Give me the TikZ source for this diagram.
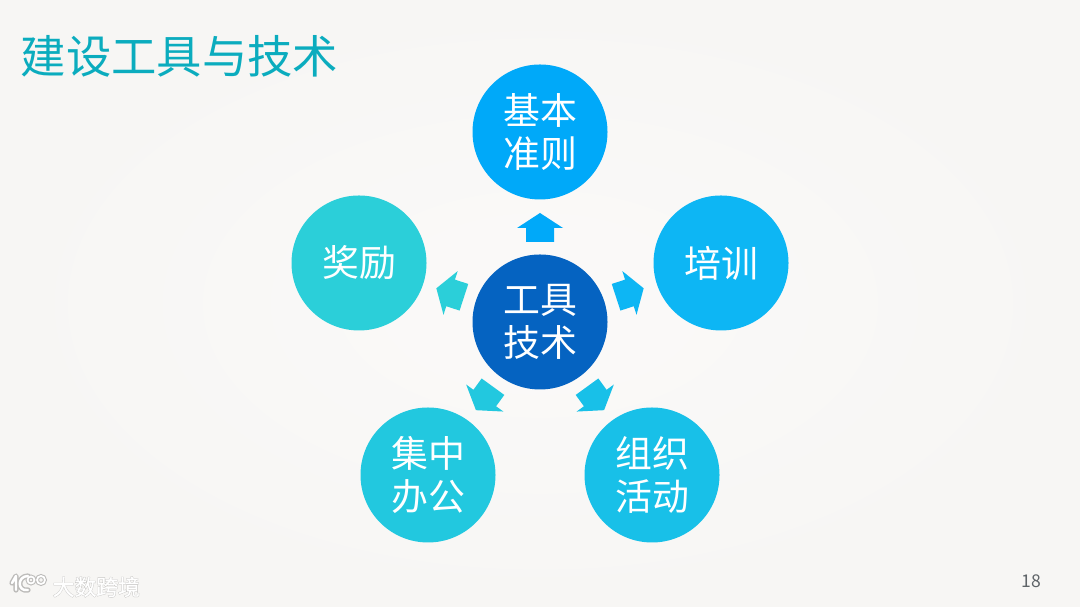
\documentclass[tikz,border=0pt]{standalone}
\usepackage{fontspec}
\usepackage{xcolor}
\newfontfamily\cjk{Noto Sans CJK SC}
\newfontfamily\cjkhalo[FakeBold=4]{Noto Sans CJK SC}
\newfontfamily\cjkmark[FakeBold=1]{Noto Sans CJK SC}
\usetikzlibrary{calc}
\definecolor{Paper}{HTML}{F7F6F4}
\definecolor{Paper_Light}{HTML}{FBFAF9}
\definecolor{Title_Teal}{HTML}{0BACBE}
\definecolor{Hub_Blue}{HTML}{0563C1}
\definecolor{Top_Blue}{HTML}{00A9F9}
\definecolor{Right_Blue}{HTML}{0DB6F4}
\definecolor{Low_Blue}{HTML}{18C0E8}
\definecolor{Low_Teal}{HTML}{22C8DF}
\definecolor{Left_Teal}{HTML}{2BCFD9}
\definecolor{Halo_Grey}{HTML}{BDBCBA}
\definecolor{Page_Grey}{HTML}{5F6468}
\tikzset{
    topic/.style={circle, minimum size=1.35cm, inner sep=0pt, text=white, align=center,
        font=\cjk\fontsize{10.5}{12.2}\selectfont},
    blockarrow/.style={fill=#1, draw=none}
}

\begin{document}
\begin{tikzpicture}
    \useasboundingbox (0,0) rectangle (10.8,6.07);
    % Background
    \shade[inner color=Paper_Light, outer color=Paper] (0,0) rectangle (10.8,6.07);

    % Title
    \node[anchor=west, inner sep=0pt, text=Title_Teal, font=\cjk\fontsize{12.9}{15}\selectfont]
        (title) at (0.2,5.51) {建设工具与技术};

    % Hub and the five topics
    \node[topic, fill=Hub_Blue] (hub) at (5.40,2.85) {工具\\技术};
    \node[topic, fill=Top_Blue] (rules) at (5.40,4.75) {基本\\准则};
    \node[topic, fill=Right_Blue] (training) at (7.21,3.44) {\raisebox{0.02cm}{培训}};
    \node[topic, fill=Low_Blue] (events) at (6.52,1.32) {组织\\活动};
    \node[topic, fill=Low_Teal] (office) at (4.28,1.32) {集中\\办公};
    \node[topic, fill=Left_Teal] (reward) at (3.59,3.44) {\raisebox{0.02cm}{奖励}};

    % Block arrows, one pointing at each topic
    \foreach \ang/\col in {0/Top_Blue, -72/Right_Blue, -144/Low_Blue, 144/Low_Teal, 72/Left_Teal} {
        \fill[blockarrow=\col, shift={(hub.center)}, rotate=\ang]
            (-0.14,0.80) -- (-0.14,0.94) -- (-0.23,0.94) -- (0,1.09)
            -- (0.23,0.94) -- (0.14,0.94) -- (0.14,0.80) -- cycle;
    }

    % Watermark logo
    \draw[Halo_Grey, line width=1.5pt, line cap=round, line join=round]
        (0.12,0.24) -- (0.16,0.31) -- (0.16,0.17)
        (0.28,0.31) .. controls (0.17,0.31) and (0.17,0.15) .. (0.28,0.17);
    \draw[Halo_Grey, line width=1.1pt] (0.31,0.27) circle (0.035) (0.41,0.27) circle (0.04);
    \draw[white, line width=0.7pt, line cap=round, line join=round]
        (0.12,0.24) -- (0.16,0.31) -- (0.16,0.17)
        (0.28,0.31) .. controls (0.17,0.31) and (0.17,0.15) .. (0.28,0.17);
    \draw[white, line width=0.5pt] (0.31,0.27) circle (0.035) (0.41,0.27) circle (0.04);
    \node[anchor=west, inner sep=0pt, text=Halo_Grey, font=\cjkhalo\fontsize{6.2}{7}\selectfont]
        (markhalo) at (0.52,0.20) {大数跨境};
    \node[anchor=west, inner sep=0pt, text=white, font=\cjkmark\fontsize{6.2}{7}\selectfont]
        (mark) at (0.52,0.20) {大数跨境};

    % Page number
    \node[inner sep=0pt, text=Page_Grey, font=\cjk\fontsize{5}{6}\selectfont]
        (page) at (10.31,0.26) {18};
\end{tikzpicture}
\end{document}
